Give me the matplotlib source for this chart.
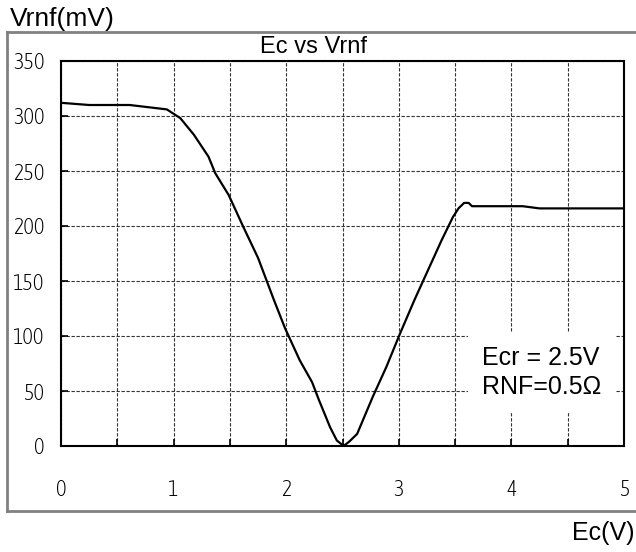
import matplotlib
matplotlib.use("Agg")
from matplotlib import pyplot as plt
from matplotlib.lines import Line2D
from matplotlib import font_manager

# ---- data ----
ec_v = [0.00, 0.25, 0.61, 0.94, 1.06, 1.18, 1.31, 1.37, 1.49, 1.62, 1.75, 1.89,
        1.99, 2.12, 2.23, 2.29, 2.39, 2.45, 2.51, 2.56, 2.63, 2.77, 2.89, 3.01,
        3.14, 3.22, 3.38, 3.48, 3.53, 3.58, 3.62, 3.65, 4.10, 4.25, 5.00]
vrnf_mv = [312, 310, 310, 306, 298, 283, 263, 248, 228, 199, 171, 133,
           107, 78, 58, 42, 17, 5, 0, 4, 11, 45, 72, 102,
           133, 151, 187, 208, 216, 221, 221, 218, 218, 216, 216]
x_ticks = [0, 1, 2, 3, 4, 5]
y_ticks = [0, 50, 100, 150, 200, 250, 300, 350]
note_lines = ["Ecr = 2.5V", "RNF=0.5\u03a9"]

# pick a condensed face for tick labels if one is installed
tick_font = None
for f in font_manager.fontManager.ttflist:
    st = str(f.stretch).lower()
    if ("narrow" in f.name.lower() or "condensed" in f.name.lower()
            or st in ("condensed", "semi-condensed", "extra-condensed", "75", "62.5")):
        if f.style == "normal":
            tick_font = f.fname
            if str(f.weight) in ("300", "light", "200", "extra-light"):
                break
tick_fp = (font_manager.FontProperties(fname=tick_font, size=16) if tick_font
           else font_manager.FontProperties(family="DejaVu Sans", size=14))
sans = "Liberation Sans"

fig = plt.figure(figsize=(6.36, 5.52), dpi=100)
ax = fig.add_axes([61 / 636, 1 - 446 / 552, (624 - 61) / 636, (446 - 61) / 552])

ax.plot(ec_v, vrnf_mv, color="black", lw=1.6, zorder=3)
ax.set_xlim(0, 5)
ax.set_ylim(0, 350)
ax.set_xticks(x_ticks)
ax.set_yticks(y_ticks)
ax.set_xticks([0.5, 1.5, 2.5, 3.5, 4.5], minor=True)
ax.grid(True, which="both", axis="x", color="#333333", ls=(0, (3, 1.5)), lw=0.8)
ax.grid(True, which="major", axis="y", color="#333333", ls=(0, (3, 1.5)), lw=0.8)
ax.tick_params(which="both", direction="in", length=5, width=1.2)
ax.tick_params(axis="x", which="major", pad=24)
ax.tick_params(axis="y", pad=12)
for lab in ax.get_xticklabels() + ax.get_yticklabels():
    lab.set_fontproperties(tick_fp)
for sp in ax.spines.values():
    sp.set_linewidth(1.5)

fig.text(314 / 636, 1 - 47 / 552, "Ec vs Vrnf", fontsize=17, family=sans,
         ha="center", va="center")

# white note box covering the grid lower right
ax.text(0.748, 0.19, "\n".join(note_lines), transform=ax.transAxes,
        fontsize=18, family=sans, va="center", ha="left", linespacing=1.25,
        bbox=dict(facecolor="white", edgecolor="none", pad=10), zorder=4)

fig.text(10 / 636, 1 - 19 / 552, "Vrnf(mV)", fontsize=19, family=sans,
         ha="left", va="center")
fig.text(634 / 636, 1 - 533 / 552, "Ec(V)", fontsize=18, family=sans,
         ha="right", va="center")

# outer frame (open on the right)
fc = "#808080"
x0, y0, y1 = 7 / 636, 1 - 511 / 552, 1 - 32 / 552
for xs, ys in [([x0, 1.0], [y1, y1]), ([x0, x0], [y0, y1]), ([x0, 1.0], [y0, y0])]:
    fig.add_artist(Line2D(xs, ys, transform=fig.transFigure, color=fc, lw=2))

fig.savefig("out.png", dpi=100)
